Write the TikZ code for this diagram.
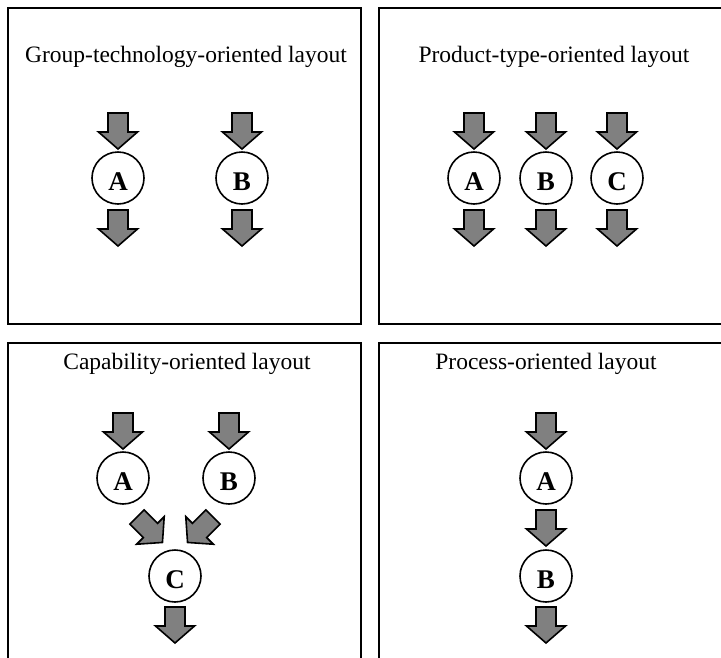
\documentclass[tikz,border=0pt]{standalone}
\usepackage{fontspec}
\setmainfont{Liberation Serif}
\begin{document}
\begin{tikzpicture}[x=1pt,y=-1pt,
  panel/.style={draw=black,line width=2pt},
  station/.style={circle,draw=black,line width=1.6pt,fill=white,minimum size=52pt,inner sep=0pt,
    font=\fontsize{27}{30}\selectfont\bfseries,text height=25pt,text depth=0pt},
  title/.style={anchor=base,inner sep=0pt,font=\fontsize{23.5}{28}\selectfont},
  flow/.style={draw=black,line width=1.6pt,fill=gray,line join=miter},
  blockarrow/.pic={\path[flow] (-10,0) -- (-10,19) -- (-19.5,19) -- (0,36) -- (19.5,19) -- (10,19) -- (10,0) -- cycle;}
]
\useasboundingbox (0,0) rectangle (721,657);
\clip (0,0) rectangle (721,657);

% panels
\draw[panel] (8,8) rectangle (361,324);
\draw[panel] (379,8) rectangle (730,324);
\draw[panel] (8,343) rectangle (361,670);
\draw[panel] (379,343) rectangle (730,670);

% titles
\node[title] (t1) at (186,62) {Group-technology-oriented layout};
\node[title] (t2) at (554,62) {Product-type-oriented layout};
\node[title] (t3) at (187,369) {Capability-oriented layout};
\node[title] (t4) at (546,369) {Process-oriented layout};

% top-left panel
\pic (tlAin) at (118,113) {blockarrow};
\pic (tlAout) at (118,210) {blockarrow};
\pic (tlBin) at (242,113) {blockarrow};
\pic (tlBout) at (242,210) {blockarrow};
\node[station] (tlA) at (118,178) {A};
\node[station] (tlB) at (242,178) {B};

% top-right panel
\foreach \x/\n in {474/A,546/B,617/C}{
  \pic (tr\n in) at (\x,113) {blockarrow};
  \pic (tr\n out) at (\x,210) {blockarrow};
  \node[station] (tr\n) at (\x,178) {\n};
}

% bottom-left panel
\pic (blAin) at (123,413) {blockarrow};
\pic (blBin) at (229,413) {blockarrow};
\pic[rotate=45] (blAC) at (137,517) {blockarrow};
\pic[rotate=-45] (blBC) at (213,517) {blockarrow};
\pic (blCout) at (175,607) {blockarrow};
\node[station] (blA) at (123,478) {A};
\node[station] (blB) at (229,478) {B};
\node[station] (blC) at (175,576) {C};

% bottom-right panel
\pic (brAin) at (546,413) {blockarrow};
\pic (brAB) at (546,510) {blockarrow};
\pic (brBout) at (546,607) {blockarrow};
\node[station] (brA) at (546,478) {A};
\node[station] (brB) at (546,576) {B};
\end{tikzpicture}
\end{document}
